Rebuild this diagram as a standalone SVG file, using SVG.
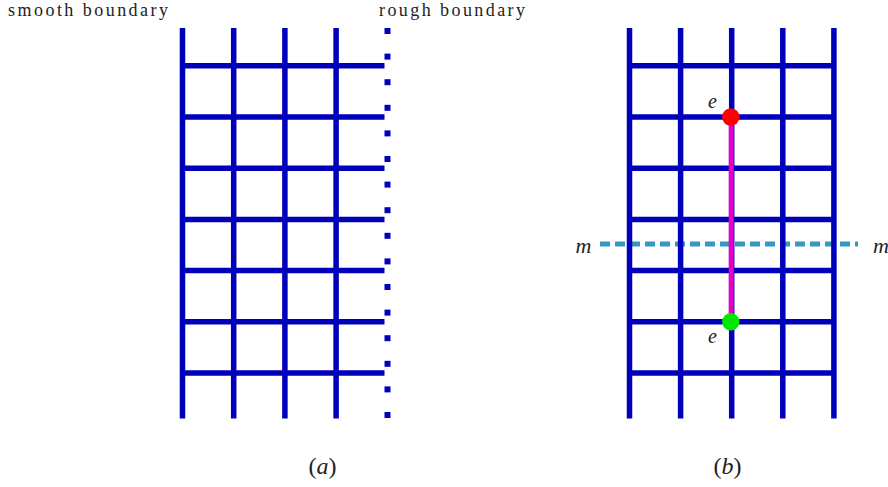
<svg xmlns="http://www.w3.org/2000/svg" width="888" height="487" viewBox="0 0 888 487">
  <style>
    .lat { stroke: #0000bb; stroke-width: 5.5; fill: none; }
    .dot { fill: #0000bb; }
    .lbl { font-family: "Liberation Serif", "DejaVu Serif", serif; fill: #222; }
    .it { font-style: italic; }
    .mstring { stroke: #3399bf; stroke-width: 5; stroke-dasharray: 10 5; fill: none; }
    .estring { stroke: #e600c8; stroke-width: 5; fill: none; }
  </style>
  <rect width="888" height="487" fill="#ffffff"/>

  <g id="lattice-a">
    <path class="lat" d="M182.5,28V418.5M233.7,28V418.5M284.9,28V418.5M336.1,28V418.5
      M182.5,65.8H384.5M182.5,117H384.5M182.5,168.2H384.5M182.5,219.4H384.5M182.5,270.6H384.5M182.5,321.8H384.5M182.5,373H384.5"/>
  </g>

  <g id="rough-boundary">
    <rect class="dot" x="384.5" y="28" width="6" height="6"/>
    <rect class="dot" x="384.5" y="53.6" width="6" height="6"/>
    <rect class="dot" x="384.5" y="79.2" width="6" height="6"/>
    <rect class="dot" x="384.5" y="104.8" width="6" height="6"/>
    <rect class="dot" x="384.5" y="130.4" width="6" height="6"/>
    <rect class="dot" x="384.5" y="156" width="6" height="6"/>
    <rect class="dot" x="384.5" y="181.6" width="6" height="6"/>
    <rect class="dot" x="384.5" y="207.2" width="6" height="6"/>
    <rect class="dot" x="384.5" y="232.8" width="6" height="6"/>
    <rect class="dot" x="384.5" y="258.4" width="6" height="6"/>
    <rect class="dot" x="384.5" y="284" width="6" height="6"/>
    <rect class="dot" x="384.5" y="309.6" width="6" height="6"/>
    <rect class="dot" x="384.5" y="335.2" width="6" height="6"/>
    <rect class="dot" x="384.5" y="360.8" width="6" height="6"/>
    <rect class="dot" x="384.5" y="386.4" width="6" height="6"/>
    <rect class="dot" x="384.5" y="412" width="6" height="6"/>
  </g>

  <g id="labels-a">
    <text class="lbl" x="8" y="16" font-size="18" textLength="160" lengthAdjust="spacing">smooth boundary</text>
    <text class="lbl" x="379" y="16" font-size="18" textLength="146" lengthAdjust="spacing">rough boundary</text>
    <text class="lbl" x="322.5" y="474" font-size="24" text-anchor="middle">(<tspan class="it">a</tspan>)</text>
  </g>

  <g id="string-m">
    <path class="mstring" d="M600,244H858"/>
  </g>

  <g id="lattice-b">
    <path class="lat" d="M629.5,28V418.5M680.6,28V418.5M731.7,28V418.5M782.8,28V418.5M833.9,28V418.5
      M629.5,65.8H833.9M629.5,117H833.9M629.5,168.2H833.9M629.5,219.4H833.9M629.5,270.6H833.9M629.5,321.8H833.9M629.5,373H833.9"/>
  </g>

  <g id="connectors">
    <path id="string-e" class="estring" d="M731.2,117V321.8"/>
  </g>

  <g id="e-top">
    <circle cx="730.8" cy="117" r="8.7" fill="#ff0000"/>
    <text class="lbl it" x="712.5" y="108" font-size="20" text-anchor="middle">e</text>
  </g>

  <g id="e-bottom">
    <circle cx="730.8" cy="321.8" r="8.7" fill="#00e600"/>
    <text class="lbl it" x="712.5" y="343" font-size="20" text-anchor="middle">e</text>
  </g>

  <g id="labels-b">
    <text class="lbl it" x="583.5" y="253" font-size="22" text-anchor="middle">m</text>
    <text class="lbl it" x="873" y="253" font-size="22">m</text>
    <text class="lbl" x="727.5" y="474" font-size="24" text-anchor="middle">(<tspan class="it">b</tspan>)</text>
  </g>
</svg>
